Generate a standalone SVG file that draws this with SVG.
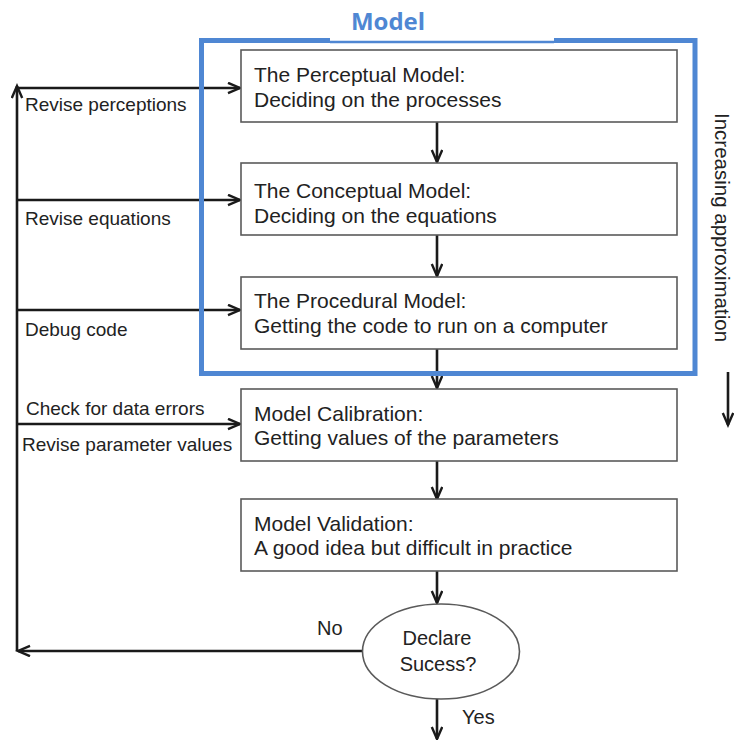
<svg xmlns="http://www.w3.org/2000/svg" width="735" height="740" viewBox="0 0 735 740">
<defs>
<style>
.box{fill:#fff;stroke:#5a5a5a;stroke-width:1.6}
.t{font-family:"Liberation Sans",Arial,sans-serif;font-size:21px;fill:#222}
.lb{font-family:"Liberation Sans",Arial,sans-serif;font-size:19px;fill:#222}
.ln{fill:none;stroke:#1a1a1a;stroke-width:2.6}
.frame{fill:none;stroke:#4f87d3}
</style>
<marker id="ah" markerUnits="userSpaceOnUse" markerWidth="16" markerHeight="14" refX="13" refY="6" orient="auto">
<path d="M1,0.8 L13,6 L1,11.2" fill="none" stroke="#1a1a1a" stroke-width="2.4"/>
</marker>
</defs>
<rect width="735" height="740" fill="#fff"/>

<g id="connectors">
<path class="ln" d="M17,651 V86" marker-end="url(#ah)"/>
<path class="ln" d="M17,88 H240" marker-end="url(#ah)"/>
<path class="ln" d="M17,200 H240" marker-end="url(#ah)"/>
<path class="ln" d="M17,310 H240" marker-end="url(#ah)"/>
<path class="ln" d="M17,424 H240" marker-end="url(#ah)"/>
<path class="ln" d="M363,651 H18" marker-end="url(#ah)"/>
<path class="ln" d="M437,122 V162" marker-end="url(#ah)"/>
<path class="ln" d="M437,235 V276" marker-end="url(#ah)"/>
<path class="ln" d="M437,349 V388" marker-end="url(#ah)"/>
<path class="ln" d="M437,461 V499" marker-end="url(#ah)"/>
<path class="ln" d="M437,571 V603" marker-end="url(#ah)"/>
<path class="ln" d="M437,699 V739" marker-end="url(#ah)"/>
<path class="ln" d="M728,372 V425" marker-end="url(#ah)"/>
<text class="lb" x="25" y="111">Revise perceptions</text>
<text class="lb" x="25" y="225">Revise equations</text>
<text class="lb" x="25" y="336">Debug code</text>
<text class="lb" x="26" y="415">Check for data errors</text>
<text class="lb" x="22" y="451">Revise parameter values</text>
<text class="lb" x="317" y="635" style="font-size:20px">No</text>
<text class="lb" x="462" y="724" style="font-size:20px">Yes</text>
</g>

<g id="perceptual">
<rect class="box" x="241" y="50" width="436" height="72"/>
<text class="t" x="254" y="82">The Perceptual Model:</text>
<text class="t" x="254" y="107">Deciding on the processes</text>
</g>
<g id="conceptual">
<rect class="box" x="241" y="163" width="436" height="72"/>
<text class="t" x="254" y="198">The Conceptual Model:</text>
<text class="t" x="254" y="223">Deciding on the equations</text>
</g>
<g id="procedural">
<rect class="box" x="241" y="277" width="436" height="72"/>
<text class="t" x="254" y="308">The Procedural Model:</text>
<text class="t" x="254" y="333">Getting the code to run on a computer</text>
</g>
<g id="calibration">
<rect class="box" x="241" y="389" width="436" height="72"/>
<text class="t" x="254" y="421">Model Calibration:</text>
<text class="t" x="254" y="445">Getting values of the parameters</text>
</g>
<g id="validation">
<rect class="box" x="241" y="499" width="436" height="72"/>
<text class="t" x="254" y="531">Model Validation:</text>
<text class="t" x="254" y="555">A good idea but difficult in practice</text>
</g>
<g id="decision">
<ellipse class="box" cx="441" cy="651.5" rx="78.5" ry="47.5"/>
<text class="t" x="437" y="645" text-anchor="middle" style="font-size:20px">Declare</text>
<text class="t" x="438" y="671" text-anchor="middle" style="font-size:20px">Sucess?</text>
</g>

<g id="axis-label">
<text class="t" transform="translate(715,113) rotate(90)" style="font-size:20.5px">Increasing approximation</text>
</g>

<g id="model-frame">
<path class="frame" stroke-width="5" d="M330,40.5 H201.5 V373.5 H695 V40.5 H554"/>
<path class="frame" stroke-width="2.5" d="M330,42 H554"/>
<text x="388" y="30" text-anchor="middle" style="font-family:'Open Sans','Liberation Sans',sans-serif;font-weight:bold;font-size:24px;fill:#4f87d3">Model</text>
</g>
</svg>
